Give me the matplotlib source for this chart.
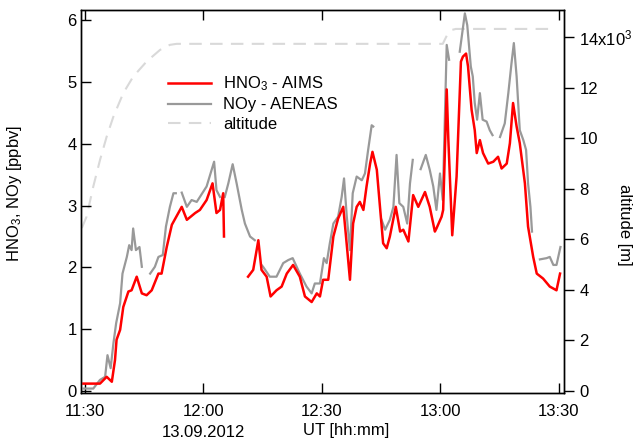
import numpy as np
import matplotlib
matplotlib.use("Agg")
import matplotlib.pyplot as plt

plt.rcParams['font.family'] = ['Liberation Sans', 'DejaVu Sans']
plt.rcParams['mathtext.default'] = 'regular'
plt.rcParams['font.size'] = 12

nan = np.nan

# minutes after 11:30 UT, values in ppbv (nan = gap in data)
t_hno3 = [-0.4, 3.8, 5.5, 6.8, 7.6, 8.0, 8.9, 9.7, 11.0, 11.8, 13.1, 14.4, 15.6, 16.9,
          18.6, 19.4, 20.7, 22.0, 24.5, 25.8, 27.9, 29.1, 30.8, 32.3, 33.3, 34.2, 35.0, 35.2,
          38.0,
          41.3, 42.6, 43.9, 44.7, 46.0, 47.0, 48.5, 49.8, 51.1, 52.7, 54.4, 55.7, 57.4, 58.7,
          59.5, 60.3, 61.6, 62.9, 64.1, 65.4, 66.1, 67.1, 67.9, 68.8, 69.6, 70.5, 71.3, 72.2,
          72.8, 73.9, 74.7, 75.5, 76.4, 77.2, 78.7, 79.8, 80.6, 81.9, 83.1, 84.4, 86.1, 87.3,
          88.6, 89.0, 90.3, 90.7, 91.6, 92.0, 93.0, 94.1, 95.2, 95.7, 96.5, 97.0, 97.9, 98.7,
          99.2, 100.0, 100.8, 102.1, 103.4, 104.6, 105.5, 106.8, 107.6, 108.4, 109.3, 110.1,
          111.4, 112.2, 113.5, 114.4, 116.0, 117.7, 119.4, 120.3]
hno3 = [0.12, 0.12, 0.23, 0.15, 0.50, 0.83, 0.99, 1.36, 1.61, 1.63, 1.85, 1.58, 1.55, 1.63,
        1.90, 1.90, 2.33, 2.69, 2.98, 2.77, 2.88, 2.93, 3.09, 3.36, 2.88, 2.93, 3.20, 2.50,
        nan,
        1.85, 1.96, 2.44, 1.96, 1.85, 1.53, 1.63, 1.69, 1.90, 2.04, 1.85, 1.53, 1.44, 1.58,
        1.53, 1.80, 1.80, 2.50, 2.79, 2.98, 2.50, 1.80, 2.71, 2.98, 3.06, 2.93, 3.31, 3.68,
        3.87, 3.58, 2.98, 2.39, 2.31, 2.50, 2.98, 2.58, 2.61, 2.42, 3.17, 2.98, 3.22, 2.98,
        2.58, 2.63, 2.82, 2.93, 4.88, 4.09, 2.52, 3.47, 5.33, 5.41, 5.46, 5.25, 4.55, 4.22,
        3.85, 4.06, 3.85, 3.68, 3.71, 3.79, 3.60, 3.68, 4.01, 4.66, 4.28, 4.01,
        3.36, 2.66, 2.17, 1.90, 1.82, 1.69, 1.63, 1.90]

t_noy = [-0.4, 2.1, 3.8, 5.1, 5.7, 6.5, 7.2, 7.9, 8.9, 9.5, 10.6, 11.2, 11.8, 12.2, 12.9,
         13.8, 14.4, 15.0,
         16.5, 17.7, 18.6, 19.7, 20.5, 21.5, 22.4, 23.0, 23.7,
         24.5, 25.8, 27.0, 28.3, 29.1, 30.8, 32.7, 33.3, 34.2, 34.8,
         35.4, 36.3, 37.4, 38.4, 39.7, 40.5, 41.8, 43.0, 43.9,
         44.7, 45.1, 46.8, 48.5, 50.2, 51.5, 52.6, 54.4, 56.1, 57.4, 58.2, 59.5, 60.5, 61.2,
         62.0, 62.9, 64.1, 65.0, 65.6, 66.3, 67.1, 67.8, 68.8, 70.1, 70.9, 71.7, 72.6, 73.0,
         74.0,
         75.1, 76.0, 77.2, 78.1, 78.9, 79.6, 80.6, 81.6, 82.3, 83.0, 84.0,
         85.0, 86.3, 87.3, 88.2, 89.0, 89.9, 90.6, 91.6, 92.2, 93.5,
         94.9, 96.2, 96.8, 97.7, 98.2, 98.7, 99.3, 100.0, 100.7, 101.7, 102.5, 103.2, 104.1,
         105.1, 106.3, 107.2, 108.0, 108.6, 109.3, 110.1, 111.0, 111.7, 112.2, 112.8, 113.2,
         114.2,
         115.2, 116.9, 117.7, 118.6, 119.4, 120.4]
noy = [0.04, 0.04, 0.18, 0.23, 0.58, 0.37, 0.77, 1.10, 1.42, 1.90, 2.17, 2.36, 2.28, 2.63, 2.28,
       2.33, 2.01, nan,
       1.90, 2.01, 2.17, 2.20, 2.66, 2.98, 3.20, 3.20, nan,
       3.21, 2.98, 3.09, 3.06, 3.14, 3.31, 3.71, 3.25, 3.14, nan,
       3.14, 3.36, 3.67, 3.36, 2.93, 2.71, 2.50, 2.44, nan,
       2.04, 2.01, 1.85, 1.85, 2.07, 2.12, 2.15, 1.90, 1.69, 1.58, 1.74, 1.74, 2.15, 2.07,
       2.39, 2.71, 2.82, 3.14, 3.44, 2.82, 2.28, 3.20, 3.47, 3.41, 3.52, 3.90, 4.30, 4.28,
       nan,
       2.77, 2.61, 2.77, 2.98, 3.82, 3.04, 2.98, 2.71, 3.36, 3.74, nan,
       3.59, 3.82, 3.58, 3.31, 2.93, 3.52, 3.09, 5.60, 5.36, nan,
       5.49, 6.11, 5.92, 5.25, 5.09, 4.66, 4.39, 4.82, 4.39, 4.36, 4.22, 4.14, nan,
       4.11, 4.33, 4.82, 5.30, 5.63, 5.09, 4.22, 4.06, 3.90, 3.36, 2.98, 2.58,
       nan,
       2.13, 2.15, 2.17, 2.04, 2.04, 2.33]

# flight altitude in m
t_alt = [-0.8, 0.4, 2.1, 3.8, 5.5, 7.2, 9.7, 12.2, 15.6, 19.0, 21.5, 23.2, 90.6, 91.7,
         92.9, 93.9, 119.0]
alt = [6450, 6900, 8090, 9140, 10070, 10860, 11790, 12440, 13040, 13500, 13700, 13740,
       13740, 14090, 14290, 14330, 14330]

xticks = [0, 30, 60, 90, 120]
xticklabels = ['11:30', '12:00', '12:30', '13:00', '13:30']
alt_ticks = [0, 2000, 4000, 6000, 8000, 10000, 12000, 14000]
alt_labels = ['0', '2', '4', '6', '8', '10', '12', '14x10$^3$']

fig = plt.figure(figsize=(6.37, 4.40), dpi=100)
ax = fig.add_axes([0.1272, 0.1068, 0.7582, 0.8705])
ax2 = ax.twinx()
ax.set_zorder(ax2.get_zorder() + 1)
ax.patch.set_visible(False)

l_alt, = ax2.plot(t_alt, alt, color='#d9d9d9', lw=1.5, dashes=(6, 4))
l_noy, = ax.plot(t_noy, noy, color='#999999', lw=1.6)
l_hno3, = ax.plot(t_hno3, hno3, color='#ff0000', lw=1.8)

ax.set_xlim(-1.0, 121.3)
ax.set_ylim(-0.032, 6.165)
ax2.set_ylim(-80, 15080)

ax.set_xticks(xticks)
ax.set_xticklabels(xticklabels)
ax.set_yticks(range(7))
ax2.set_yticks(alt_ticks)
ax2.set_yticklabels(alt_labels)

ax.tick_params(axis='x', direction='in', length=7, width=1, top=True, pad=8)
ax.tick_params(axis='y', direction='in', length=7, width=1, right=False, pad=3)
ax2.tick_params(axis='y', direction='out', length=7, width=1, pad=4)

for a in (ax, ax2):
    for s in a.spines.values():
        s.set_linewidth(1)

ax.set_ylabel('HNO$_3$, NOy [ppbv]', va='center')
ax.yaxis.set_label_coords(-0.137, 0.52)
ax2.set_ylabel('altitude [m]', rotation=270, va='center')
ax2.yaxis.set_label_coords(1.126, 0.44)

ax.text(0.548, -0.097, 'UT [hh:mm]', transform=ax.transAxes, ha='center', va='center')
ax.text(0.2534, -0.103, '13.09.2012', transform=ax.transAxes, ha='center', va='center')

ax.legend([l_hno3, l_noy, l_alt], ['HNO$_3$ - AIMS', 'NOy - AENEAS', 'altitude'],
          loc='upper left', bbox_to_anchor=(0.166, 0.849), frameon=False,
          handlelength=2.6, handletextpad=0.7, labelspacing=0.25, borderaxespad=0)

fig.savefig('out.png', dpi=100)
